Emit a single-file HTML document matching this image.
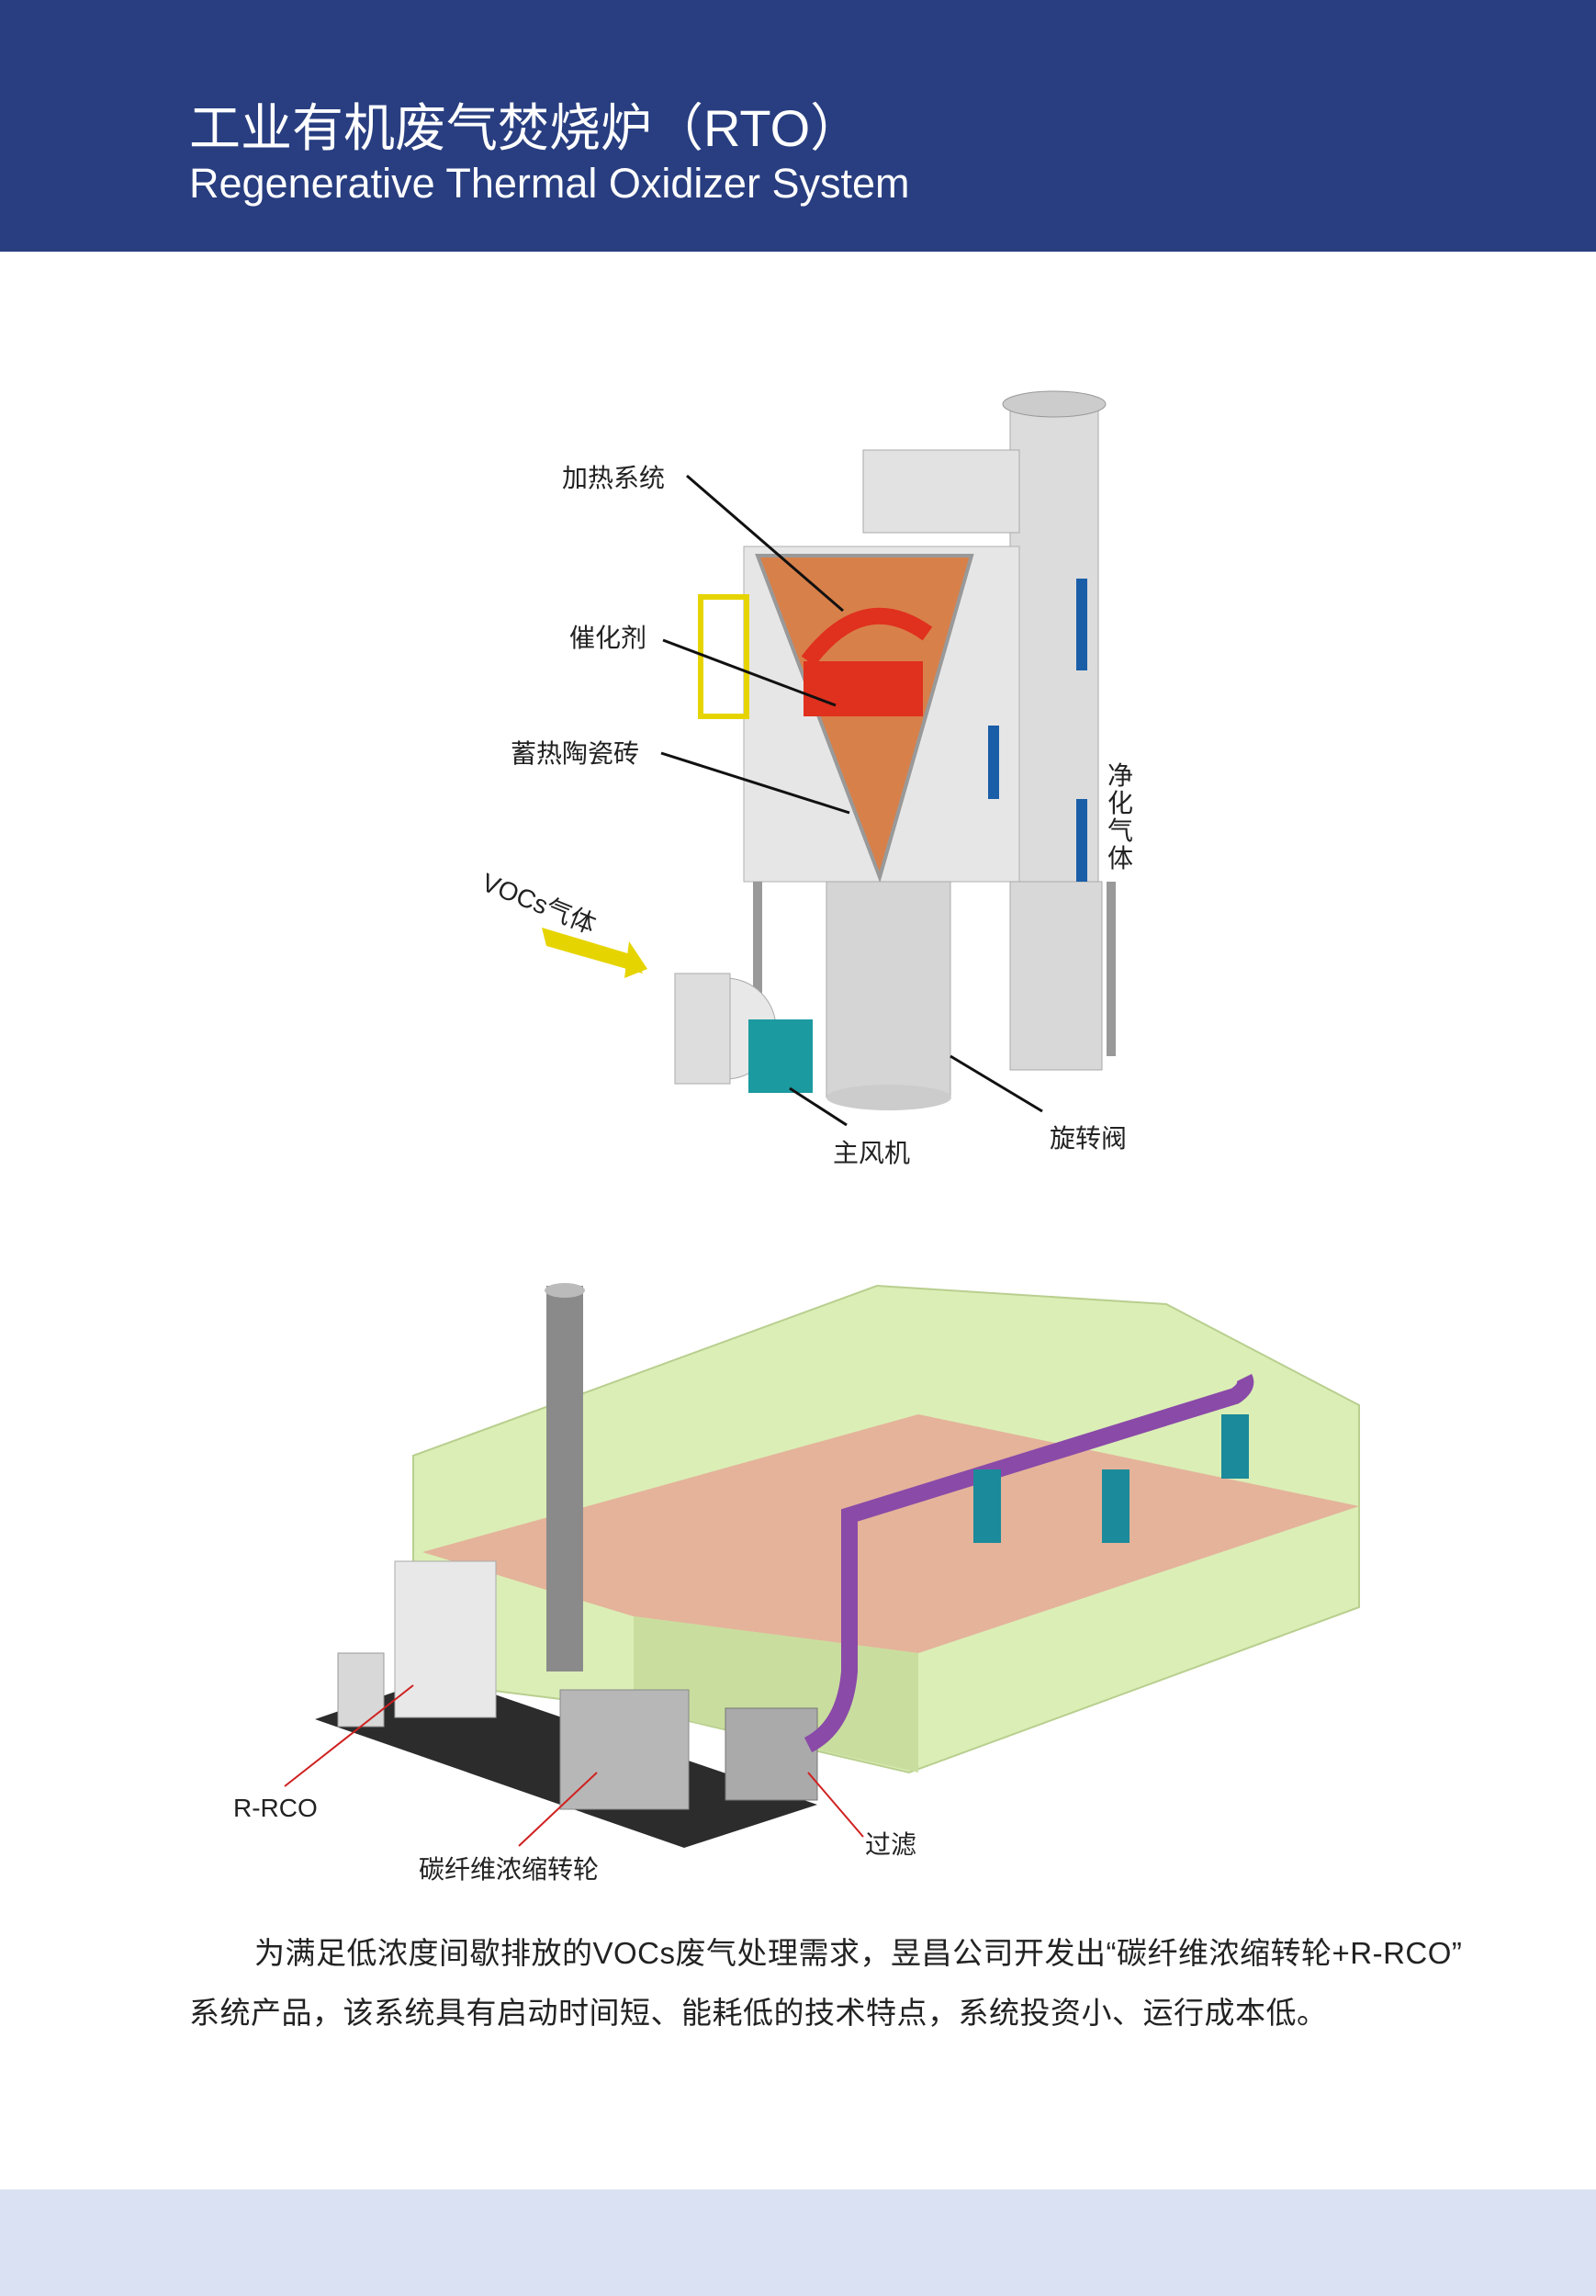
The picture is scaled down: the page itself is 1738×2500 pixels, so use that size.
<!DOCTYPE html>
<html><head><meta charset="utf-8"><style>
html,body{margin:0;padding:0}
body{width:1738px;height:2500px;position:relative;background:#fff;overflow:hidden;font-family:"Liberation Sans","Noto Sans CJK SC",sans-serif}
.hdr{position:absolute;left:0;top:0;width:1738px;height:274px;background:#283e80}
.t1{position:absolute;left:206px;top:108px;color:#fff;font-size:56px;line-height:64px}
.t2{position:absolute;left:206px;top:174px;color:#fff;font-size:45px;line-height:52px}
.foot{position:absolute;left:0;top:2384px;width:1738px;height:116px;background:#d9e1f2}
.p{position:absolute;color:#222;font-size:33px;line-height:40px;white-space:nowrap;letter-spacing:0.5px}
.lb{position:absolute;color:#222;font-size:28px;line-height:32px;white-space:nowrap}
</style></head><body>
<div class="hdr"></div>
<div class="t1">工业有机废气焚烧炉（RTO）</div>
<div class="t2">Regenerative Thermal Oxidizer System</div>

<svg width="1738" height="2500" style="position:absolute;left:0;top:0">
<rect x="1100" y="440" width="96" height="725" fill="#dcdcdc" stroke="#aaa"/>
<ellipse cx="1148" cy="440" rx="56" ry="14" fill="#ccc" stroke="#999"/>
<rect x="940" y="490" width="170" height="90" fill="#e2e2e2" stroke="#aaa"/>
<rect x="810" y="595" width="300" height="365" fill="#e6e6e6" stroke="#b0b0b0"/>
<polygon points="825,605 1058,605 958,955" fill="#d8804a" stroke="#999" stroke-width="4"/>
<rect x="875" y="720" width="130" height="60" fill="#e0301e"/>
<path d="M880 720 Q940 640 1010 690" stroke="#e0301e" stroke-width="18" fill="none"/>
<rect x="900" y="960" width="135" height="235" fill="#d5d5d5" stroke="#aaa"/>
<ellipse cx="968" cy="1195" rx="68" ry="14" fill="#ccc"/>
<rect x="1100" y="960" width="100" height="205" fill="#d8d8d8" stroke="#aaa"/>
<rect x="820" y="960" width="10" height="230" fill="#999"/>
<rect x="1205" y="960" width="10" height="190" fill="#999"/>
<circle cx="790" cy="1120" r="55" fill="#e8e8e8" stroke="#aaa"/>
<rect x="735" y="1060" width="60" height="120" fill="#ddd" stroke="#aaa"/>
<rect x="815" y="1110" width="70" height="80" fill="#1b9aa0"/>
<polygon points="590,1010 690,1040 700,1060 595,1030" fill="#e6d400"/>
<polygon points="685,1025 705,1055 680,1065" fill="#e6d400"/>
<rect x="1172" y="630" width="12" height="100" fill="#1a5ea8"/>
<rect x="1172" y="870" width="12" height="90" fill="#1a5ea8"/>
<rect x="1076" y="790" width="12" height="80" fill="#1a5ea8"/>
<rect x="763" y="650" width="50" height="130" fill="none" stroke="#e6d400" stroke-width="6"/>
<g stroke="#111" stroke-width="3">
<line x1="748" y1="518" x2="918" y2="665"/>
<line x1="722" y1="697" x2="910" y2="768"/>
<line x1="720" y1="820" x2="925" y2="885"/>
<line x1="860" y1="1185" x2="922" y2="1225"/>
<line x1="1035" y1="1150" x2="1135" y2="1210"/>
</g>
<polygon points="450,1585 955,1400 1270,1420 1480,1530 1480,1750 990,1930 690,1860 450,1830" fill="#dbeeb6" stroke="#b9cf8f" stroke-width="2"/>
<polygon points="460,1690 1000,1540 1480,1640 1000,1800 690,1760" fill="#e89a8f" opacity="0.7"/>
<polygon points="690,1760 1000,1800 1000,1930 690,1860" fill="#c9de9e"/>
<polygon points="343,1872 480,1825 890,1965 745,2012" fill="#2c2c2c"/>
<rect x="595" y="1400" width="40" height="420" fill="#8a8a8a"/>
<ellipse cx="615" cy="1405" rx="22" ry="8" fill="#bbb"/>
<rect x="368" y="1800" width="50" height="80" fill="#d8d8d8" stroke="#999"/>
<rect x="430" y="1700" width="110" height="170" fill="#e8e8e8" stroke="#aaa"/>
<rect x="610" y="1840" width="140" height="130" fill="#b7b7b7" stroke="#888"/>
<rect x="790" y="1860" width="100" height="100" fill="#aaa" stroke="#777"/>
<path d="M880 1900 Q920 1880 925 1820 L925 1650 L1345 1520 Q1360 1510 1355 1500" stroke="#8a4aa8" stroke-width="18" fill="none"/>
<rect x="1060" y="1600" width="30" height="80" fill="#1b8a9a"/>
<rect x="1200" y="1600" width="30" height="80" fill="#1b8a9a"/>
<rect x="1330" y="1540" width="30" height="70" fill="#1b8a9a"/>
<g stroke="#d02020" stroke-width="2">
<line x1="310" y1="1945" x2="450" y2="1835"/>
<line x1="565" y1="2010" x2="650" y2="1930"/>
<line x1="940" y1="2000" x2="880" y2="1930"/>
</g>
</svg>

<div class="lb" style="left:612px;top:505px">加热系统</div>
<div class="lb" style="left:620px;top:679px">催化剂</div>
<div class="lb" style="left:556px;top:805px">蓄热陶瓷砖</div>
<div class="lb" style="left:532px;top:945px;transform:rotate(22deg);transform-origin:left top">VOCs气体</div>
<div class="lb" style="left:1206px;top:830px;width:30px;line-height:30px;white-space:normal">净化气体</div>
<div class="lb" style="left:907px;top:1240px">主风机</div>
<div class="lb" style="left:1143px;top:1224px">旋转阀</div>
<div class="lb" style="left:254px;top:1953px">R-RCO</div>
<div class="lb" style="left:456px;top:2020px">碳纤维浓缩转轮</div>
<div class="lb" style="left:942px;top:1993px">过滤</div>

<div class="p" style="left:277px;top:2107px">为满足低浓度间歇排放的VOCs废气处理需求，昱昌公司开发出“碳纤维浓缩转轮+R-RCO”</div>
<div class="p" style="left:206px;top:2172px">系统产品，该系统具有启动时间短、能耗低的技术特点，系统投资小、运行成本低。</div>
<div class="foot"></div>
</body></html>
